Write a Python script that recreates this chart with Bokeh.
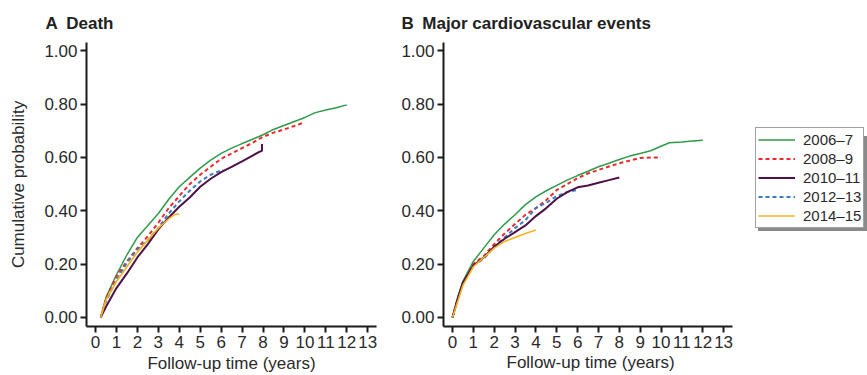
from bokeh.plotting import figure
from bokeh.models import Legend, LegendItem, FixedTicker, NumeralTickFormatter, Range1d, Title
from bokeh.layouts import row
from bokeh.embed import file_html
from bokeh.resources import INLINE

# ---------------- data ----------------
series_names = ["2006\u20137", "2008\u20139", "2010\u201311", "2012\u201313", "2014\u201315"]
x_ticks = list(range(14))
y_ticks = [0.0, 0.2, 0.4, 0.6, 0.8, 1.0]

# Panel A: Death
a_2006_x = [0.25, 0.5, 1, 1.5, 2, 2.5, 3, 3.5, 4, 4.5, 5, 5.5, 6, 6.5, 7, 7.5, 8, 8.5, 9, 9.5, 10, 10.5, 11, 11.5, 12]
a_2006_y = [0, 0.075, 0.16, 0.235, 0.30, 0.345, 0.39, 0.443, 0.49, 0.525, 0.56, 0.59, 0.615, 0.635, 0.652, 0.668, 0.685, 0.705, 0.72, 0.735, 0.75, 0.768, 0.778, 0.786, 0.797]
a_2008_x = [0.25, 0.5, 1, 1.5, 2, 2.5, 3, 3.5, 4, 4.5, 5, 5.5, 6, 6.5, 7, 7.5, 8, 8.5, 9, 9.5, 10]
a_2008_y = [0, 0.07, 0.155, 0.21, 0.26, 0.305, 0.355, 0.41, 0.455, 0.5, 0.535, 0.565, 0.595, 0.615, 0.635, 0.655, 0.677, 0.693, 0.705, 0.718, 0.732]
a_2010_x = [0.25, 0.5, 1, 1.5, 2, 2.5, 3, 3.5, 4, 4.5, 5, 5.5, 6, 6.5, 7, 7.5, 7.8, 7.95, 7.95]
a_2010_y = [0, 0.04, 0.11, 0.165, 0.225, 0.275, 0.33, 0.375, 0.415, 0.45, 0.49, 0.52, 0.545, 0.565, 0.585, 0.607, 0.62, 0.625, 0.65]
a_2012_x = [0.25, 0.5, 1, 1.5, 2, 2.5, 3, 3.5, 4, 4.5, 5, 5.5, 6, 6.1]
a_2012_y = [0, 0.06, 0.14, 0.205, 0.255, 0.29, 0.335, 0.39, 0.435, 0.475, 0.51, 0.535, 0.552, 0.553]
a_2014_x = [0.25, 0.5, 1, 1.5, 2, 2.5, 3, 3.5, 3.75, 4.0]
a_2014_y = [0, 0.065, 0.135, 0.19, 0.245, 0.29, 0.335, 0.37, 0.385, 0.388]

# Panel B: Major cardiovascular events
b_2006_x = [0, 0.25, 0.5, 1, 1.5, 2, 2.5, 3, 3.5, 4, 4.5, 5, 5.5, 6, 6.5, 7, 7.5, 8, 8.5, 9, 9.5, 10, 10.4, 11, 11.5, 12]
b_2006_y = [0, 0.075, 0.135, 0.21, 0.26, 0.31, 0.35, 0.385, 0.423, 0.452, 0.475, 0.495, 0.515, 0.532, 0.548, 0.565, 0.578, 0.592, 0.605, 0.615, 0.625, 0.642, 0.655, 0.658, 0.662, 0.664]
b_2008_x = [0, 0.25, 0.5, 1, 1.5, 2, 2.5, 3, 3.5, 4, 4.5, 5, 5.5, 6, 6.5, 7, 7.5, 8, 8.5, 9, 9.5, 10]
b_2008_y = [0, 0.07, 0.13, 0.2, 0.23, 0.275, 0.315, 0.35, 0.385, 0.41, 0.44, 0.478, 0.5, 0.522, 0.54, 0.553, 0.566, 0.578, 0.588, 0.598, 0.6, 0.6]
b_2010_x = [0, 0.25, 0.5, 1, 1.5, 2, 2.5, 3, 3.5, 4, 4.5, 5, 5.5, 6, 6.5, 7, 7.5, 8]
b_2010_y = [0, 0.07, 0.13, 0.195, 0.225, 0.265, 0.295, 0.32, 0.345, 0.38, 0.41, 0.445, 0.47, 0.488, 0.495, 0.505, 0.515, 0.525]
b_2012_x = [0, 0.25, 0.5, 1, 1.5, 2, 2.5, 3, 3.5, 4, 4.5, 5, 5.5, 5.95]
b_2012_y = [0, 0.07, 0.13, 0.195, 0.22, 0.265, 0.3, 0.335, 0.365, 0.41, 0.43, 0.455, 0.47, 0.477]
b_2014_x = [0, 0.25, 0.5, 1, 1.5, 2, 2.5, 3, 3.5, 4]
b_2014_y = [0, 0.06, 0.12, 0.19, 0.225, 0.26, 0.285, 0.3, 0.315, 0.328]

colors = ["#2f9a4a", "#ec2a2e", "#4e1049", "#3b7cc4", "#f6b31c"]
dashes = ["solid", "4 3", "solid", "4 3", "solid"]
widths = [1.5, 2, 2, 2, 1.6]

FONT = "Liberation Sans"
TXT = "#2a2a2a"
X_BOUNDS = (-0.43, 13.42)
X_LABEL = "Follow-up time (years)"


def style(p, ylabel, xlabel):
    p.xaxis.ticker = FixedTicker(ticks=x_ticks)
    p.yaxis.ticker = FixedTicker(ticks=y_ticks)
    p.yaxis.formatter = NumeralTickFormatter(format="0.00")
    p.xaxis.bounds = X_BOUNDS
    p.xgrid.visible = False
    p.ygrid.visible = False
    p.outline_line_color = None
    for ax in (p.xaxis[0], p.yaxis[0]):
        ax.axis_line_width = 2
        ax.axis_line_color = "#1a1a1a"
        ax.major_tick_line_width = 2
        ax.major_tick_line_color = "#1a1a1a"
        ax.major_tick_out = 6
        ax.major_tick_in = 0
        ax.minor_tick_out = 0
        ax.minor_tick_in = 0
        ax.major_label_text_font = FONT
        ax.major_label_text_font_size = "17px"
        ax.major_label_text_color = TXT
        ax.major_label_standoff = 3
        ax.axis_label_text_font = FONT
        ax.axis_label_text_font_size = "17px"
        ax.axis_label_text_font_style = "normal"
        ax.axis_label_text_color = TXT
    p.xaxis.major_label_standoff = 3
    if xlabel:
        p.xaxis.axis_label = xlabel
        p.xaxis.axis_label_standoff = 3
    if ylabel:
        p.yaxis.axis_label = ylabel
        p.yaxis.axis_label_standoff = 13
    p.title.text_font = FONT
    p.title.text_font_size = "17px"
    p.title.text_font_style = "bold"
    p.title.text_color = "#222222"
    p.title.align = "left"
    p.title.standoff = 19


pA = figure(width=395, height=375, output_backend="svg", toolbar_location=None,
            x_range=Range1d(*X_BOUNDS), y_range=Range1d(-0.034, 1.031),
            min_border_left=86, min_border_right=19, min_border_top=42, min_border_bottom=49,
            title="A\u2002Death")
pA.title.offset = -41
style(pA, "Cumulative probability", X_LABEL)

# Panel B frame runs to the right edge so the legend is inside it; the x axis is bounded.
pB = figure(width=472, height=375, output_backend="svg", toolbar_location=None,
            x_range=Range1d(-0.43, 19.9), y_range=Range1d(-0.034, 1.031),
            min_border_left=48, min_border_right=0, min_border_top=42, min_border_bottom=49,
            title="B\u2002Major cardiovascular events")
pB.title.offset = -42
style(pB, None, None)
pB.add_layout(Title(text=X_LABEL, align="left", offset=63, standoff=0,
                    text_font=FONT, text_font_size="17px", text_font_style="normal",
                    text_color=TXT), "below")

a_data = [(a_2006_x, a_2006_y), (a_2008_x, a_2008_y), (a_2010_x, a_2010_y), (a_2012_x, a_2012_y), (a_2014_x, a_2014_y)]
b_data = [(b_2006_x, b_2006_y), (b_2008_x, b_2008_y), (b_2010_x, b_2010_y), (b_2012_x, b_2012_y), (b_2014_x, b_2014_y)]

order = [0, 1, 3, 2, 4]
for i in order:
    x, y = a_data[i]
    pA.line(x, y, line_color=colors[i], line_width=widths[i], line_dash=dashes[i])

b_renderers = {}
for i in order:
    x, y = b_data[i]
    b_renderers[i] = pB.line(x, y, line_color=colors[i], line_width=widths[i], line_dash=dashes[i])


def make_legend(loc, shadow):
    if shadow:
        labels = ["\u00a0"] * 5
        gw, stand = 98, 0
    else:
        labels = series_names
        gw, stand = 37, 8
    items = [LegendItem(label=labels[i], renderers=[b_renderers[i]]) for i in range(5)]
    lg = Legend(items=items, location=loc, glyph_width=gw, glyph_height=19, label_height=19,
                label_standoff=stand, spacing=0, padding=2, margin=0,
                label_text_font=FONT, label_text_font_size="15px", label_text_color=TXT,
                border_line_color="#444444", border_line_width=1,
                background_fill_color="white", background_fill_alpha=1.0)
    if shadow:
        lg.background_fill_color = "#8a8a8a"
        lg.border_line_color = None
    return lg


pB.add_layout(make_legend((315, 95), True), "center")
pB.add_layout(make_legend((312, 98), False), "center")

layout = row(pA, pB)
open("out.html", "w").write(file_html(layout, INLINE))
